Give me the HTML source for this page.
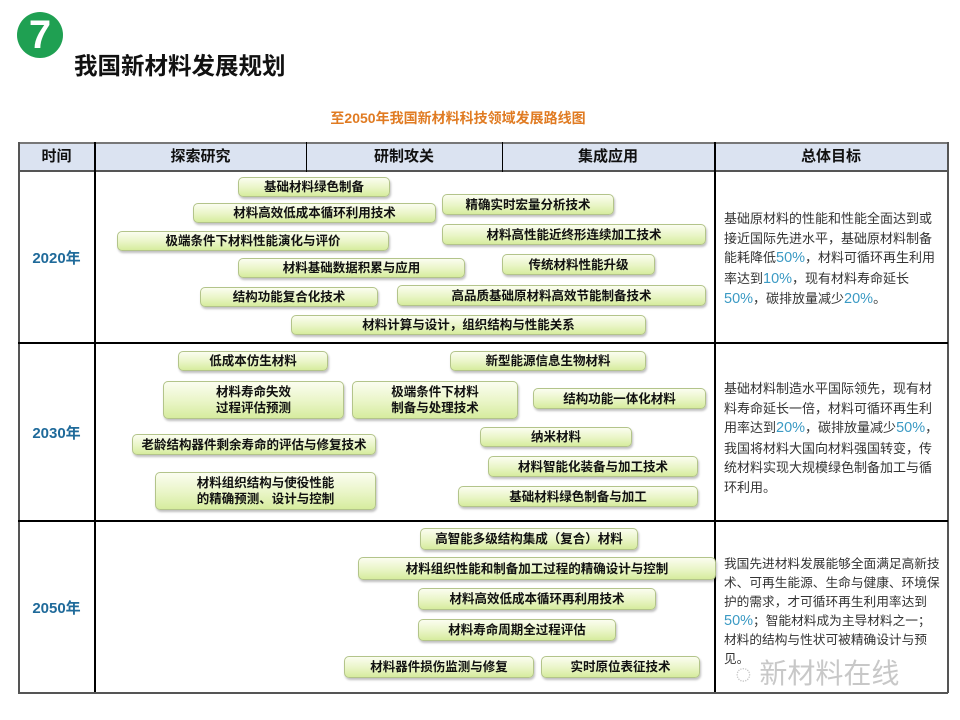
<!DOCTYPE html>
<html><head><meta charset="utf-8"><style>
*{margin:0;padding:0;box-sizing:border-box}
body{width:960px;height:720px;background:#fff;position:relative;overflow:hidden;font-family:"Liberation Sans","Noto Sans CJK SC",sans-serif;color:#111}
.a{position:absolute}
.circ{left:17px;top:12px;width:46px;height:46px;border-radius:50%;background:#1fa052;color:#fff;font:bold 40px/46px "Liberation Sans",sans-serif;text-align:center}
.title{left:74px;top:47px;font-weight:bold;font-size:23.5px}
.sub{left:0;width:916px;top:108px;text-align:center;color:#e07b22;font-weight:bold;font-size:14px}
.hl{background:#000}
.hd{top:142px;height:30px;background:#dbe3f1;border-top:2px solid #777;border-bottom:2px solid #555}
.ht{top:146px;font-weight:bold;font-size:15px;text-align:center;height:22px;line-height:22px}
.yr{left:18px;width:77px;text-align:center;color:#1f6a9a;font-weight:bold;font-size:15px}
.b{position:absolute;border:1px solid #b3c48a;border-radius:5px;background:linear-gradient(#fbfdf0,#e9f5c6 55%,#d6ec9e);box-shadow:1px 2px 2px rgba(0,0,0,.25);font-weight:bold;font-size:12.5px;text-align:center;display:flex;align-items:center;justify-content:center;line-height:16px;white-space:nowrap}
.g{position:absolute;left:724px;width:220px;font-size:13px;line-height:19.5px;color:#333}
.p{color:#3b9ac4;font-size:14.5px}
</style></head><body>
<div class="a circ">7</div>
<div class="a title">我国新材料发展规划</div>
<div class="a sub">至2050年我国新材料科技领域发展路线图</div>

<div class="a hd" style="left:18px;width:930px"></div>
<div class="a ht" style="left:18px;width:77px">时间</div>
<div class="a ht" style="left:95px;width:211px">探索研究</div>
<div class="a ht" style="left:306px;width:196px">研制攻关</div>
<div class="a ht" style="left:502px;width:212px">集成应用</div>
<div class="a ht" style="left:714px;width:234px">总体目标</div>
<div class="a hl" style="left:18px;top:142px;width:1.5px;height:551px;background:#555"></div>
<div class="a hl" style="left:947px;top:142px;width:1.5px;height:551px;background:#555"></div>
<div class="a hl" style="left:94px;top:142px;width:1.5px;height:551px"></div>
<div class="a hl" style="left:714px;top:142px;width:1.5px;height:551px"></div>
<div class="a hl" style="left:306px;top:142px;width:1px;height:30px"></div>
<div class="a hl" style="left:502px;top:142px;width:1px;height:30px"></div>
<div class="a hl" style="left:18px;top:342px;width:930px;height:1.5px"></div>
<div class="a hl" style="left:18px;top:520px;width:930px;height:1.5px"></div>
<div class="a hl" style="left:18px;top:692px;width:930px;height:1.5px;background:#555"></div>

<div class="a yr" style="top:247px">2020年</div>
<div class="a yr" style="top:422px">2030年</div>
<div class="a yr" style="top:597px">2050年</div>

<div class="b" style="left:238px;top:177px;width:152px;height:20px">基础材料绿色制备</div>
<div class="b" style="left:193px;top:203px;width:243px;height:20px">材料高效低成本循环利用技术</div>
<div class="b" style="left:442px;top:194px;width:172px;height:21px">精确实时宏量分析技术</div>
<div class="b" style="left:117px;top:231px;width:272px;height:20px">极端条件下材料性能演化与评价</div>
<div class="b" style="left:442px;top:224px;width:264px;height:21px">材料高性能近终形连续加工技术</div>
<div class="b" style="left:238px;top:258px;width:227px;height:20px">材料基础数据积累与应用</div>
<div class="b" style="left:502px;top:254px;width:153px;height:21px">传统材料性能升级</div>
<div class="b" style="left:200px;top:287px;width:178px;height:20px">结构功能复合化技术</div>
<div class="b" style="left:397px;top:285px;width:309px;height:21px">高品质基础原材料高效节能制备技术</div>
<div class="b" style="left:291px;top:315px;width:355px;height:20px">材料计算与设计，组织结构与性能关系</div>

<div class="b" style="left:178px;top:351px;width:150px;height:20px">低成本仿生材料</div>
<div class="b" style="left:450px;top:351px;width:196px;height:20px">新型能源信息生物材料</div>
<div class="b" style="left:163px;top:381px;width:181px;height:38px">材料寿命失效<br>过程评估预测</div>
<div class="b" style="left:352px;top:381px;width:166px;height:38px">极端条件下材料<br>制备与处理技术</div>
<div class="b" style="left:533px;top:388px;width:173px;height:21px">结构功能一体化材料</div>
<div class="b" style="left:132px;top:434px;width:244px;height:21px">老龄结构器件剩余寿命的评估与修复技术</div>
<div class="b" style="left:480px;top:427px;width:152px;height:20px">纳米材料</div>
<div class="b" style="left:488px;top:456px;width:210px;height:21px">材料智能化装备与加工技术</div>
<div class="b" style="left:155px;top:472px;width:221px;height:38px">材料组织结构与使役性能<br>的精确预测、设计与控制</div>
<div class="b" style="left:458px;top:486px;width:240px;height:21px">基础材料绿色制备与加工</div>

<div class="b" style="left:420px;top:528px;width:218px;height:22px">高智能多级结构集成（复合）材料</div>
<div class="b" style="left:358px;top:557px;width:358px;height:23px">材料组织性能和制备加工过程的精确设计与控制</div>
<div class="b" style="left:418px;top:588px;width:238px;height:22px">材料高效低成本循环再利用技术</div>
<div class="b" style="left:418px;top:619px;width:198px;height:22px">材料寿命周期全过程评估</div>
<div class="b" style="left:344px;top:656px;width:190px;height:22px">材料器件损伤监测与修复</div>
<div class="b" style="left:541px;top:656px;width:159px;height:22px">实时原位表征技术</div>

<div class="g" style="top:209px">基础原材料的性能和性能全面达到或接近国际先进水平，基础原材料制备能耗降低<span class="p">50%</span>，材料可循环再生利用率达到<span class="p">10%</span>，现有材料寿命延长<br><span class="p">50%</span>，碳排放量减少<span class="p">20%</span>。</div>
<div class="g" style="top:379px">基础材料制造水平国际领先，现有材料寿命延长一倍，材料可循环再生利用率达到<span class="p">20%</span>，碳排放量减少<span class="p">50%</span>，<br>我国将材料大国向材料强国转变，传统材料实现大规模绿色制备加工与循环利用。</div>
<div class="g" style="top:555px;font-size:12.7px;line-height:19px;width:216px">我国先进材料发展能够全面满足高新技术、可再生能源、生命与健康、环境保护的需求，才可循环再生利用率达到<span class="p">50%</span>；智能材料成为主导材料之一；材料的结构与性状可被精确设计与预见。</div>
<div class="a" style="left:735px;top:652px;font-size:28px;color:#c8c8c8">◌ 新材料在线</div>
</body></html>
